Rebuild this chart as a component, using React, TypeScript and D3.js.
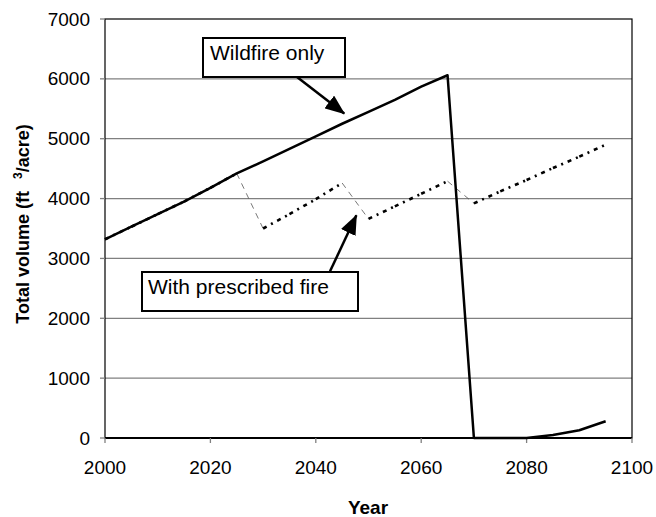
import React from 'react'
import * as d3 from 'd3'

const years = [2000, 2005, 2010, 2015, 2020, 2025, 2030, 2035, 2040, 2045, 2050, 2055, 2060, 2065, 2070, 2075, 2080, 2085, 2090, 2095]
const wildfireOnly = [3320, 3530, 3740, 3950, 4180, 4420, 4620, 4830, 5040, 5250, 5450, 5650, 5870, 6060, 0, 0, 0, 50, 130, 280]
const withPrescribedFire = [3320, 3530, 3740, 3950, 4180, 4420, 3500, 3740, 3990, 4260, 3660, 3870, 4080, 4290, 3920, 4120, 4310, 4510, 4700, 4900]
const yTicks = [0, 1000, 2000, 3000, 4000, 5000, 6000, 7000]
const xTicks = [2000, 2020, 2040, 2060, 2080, 2100]

const W = 656
const H = 517
const margin = { top: 19, right: 24, bottom: 79, left: 105 }
const font = 'Arial, "Liberation Sans", sans-serif'

export default function App() {
  const x = d3.scaleLinear().domain([2000, 2100]).range([margin.left, W - margin.right])
  const y = d3.scaleLinear().domain([0, 7000]).range([H - margin.bottom, margin.top])

  const line = d3
    .line<number>()
    .x((_, i) => x(years[i]))
    .y((d) => y(d))

  // prescribed series: falling steps render thin, rising parts thick dotted
  const segs = d3.pairs(d3.range(years.length))

  const x0 = x.range()[0]
  const x1 = x.range()[1]
  const y0 = y.range()[0]
  const y1 = y.range()[1]

  // annotation arrows, tips given in data space
  const arrows = [
    { from: [2035.7, 6080], to: [2045.4, 5420] },
    { from: [2042.7, 2785], to: [2047.7, 3720] },
  ]

  return (
    <svg width={W} height={H} style={{ position: 'absolute', left: 0, top: 0, background: '#fff' }} fontFamily={font}>
      <defs>
        <marker id="head" viewBox="0 0 20 16" refX="19" refY="8" markerWidth="20" markerHeight="16" markerUnits="userSpaceOnUse" orient="auto">
          <path d="M0,0 L20,8 L0,16 z" fill="#000" />
        </marker>
      </defs>

      {yTicks.filter((t) => t > 0 && t < 7000).map((t) => (
        <line key={t} x1={x0} x2={x1} y1={y(t)} y2={y(t)} stroke="#808080" strokeWidth={1.3} />
      ))}

      <rect x={x0} y={y1} width={x1 - x0} height={y0 - y1} fill="none" stroke="#000" strokeWidth={1.2} />
      <line x1={x0} x2={x1} y1={y0} y2={y0} stroke="#000" strokeWidth={2} />

      {yTicks.map((t) => (
        <g key={t}>
          <line x1={x0 - 5} x2={x0} y1={y(t)} y2={y(t)} stroke="#808080" strokeWidth={1.3} />
          <text x={x0 - 15} y={y(t) + 6.5} textAnchor="end" fontSize={19}>{t}</text>
        </g>
      ))}
      {xTicks.map((t) => (
        <g key={t}>
          <line x1={x(t)} x2={x(t)} y1={y0} y2={y0 + 5} stroke="#808080" strokeWidth={1.3} />
          <text x={x(t)} y={y0 + 36} textAnchor="middle" fontSize={19}>{t}</text>
        </g>
      ))}

      {segs.map(([a, b]) => {
        const down = withPrescribedFire[b] < withPrescribedFire[a]
        return (
          <line
            key={a}
            x1={x(years[a])}
            y1={y(withPrescribedFire[a])}
            x2={x(years[b])}
            y2={y(withPrescribedFire[b])}
            stroke={down ? '#555' : '#000'}
            strokeWidth={down ? 0.8 : 2.6}
            strokeDasharray={down ? '6,5' : '4,5,2,5'}
          />
        )
      })}

      <path d={line(wildfireOnly) || ''} fill="none" stroke="#000" strokeWidth={2.5} strokeLinejoin="round" />

      {arrows.map((a, i) => (
        <line
          key={i}
          x1={x(a.from[0])}
          y1={y(a.from[1])}
          x2={x(a.to[0])}
          y2={y(a.to[1])}
          stroke="#000"
          strokeWidth={2.5}
          markerEnd="url(#head)"
        />
      ))}

      <rect x={203} y={38} width={142} height={39} fill="#fff" stroke="#000" strokeWidth={2} />
      <text x={210} y={60} fontSize={21}>Wildfire only</text>

      <rect x={142} y={272} width={216} height={39} fill="#fff" stroke="#000" strokeWidth={2} />
      <text x={148} y={294} fontSize={21}>With prescribed fire</text>

      <text x={368} y={514} textAnchor="middle" fontSize={19} fontWeight="bold">Year</text>

      <text transform="translate(29,224) rotate(-90)" textAnchor="middle" fontSize={18} fontWeight="bold">
        Total volume (ft
        <tspan dx={12} dy={-7} fontSize={12}>3</tspan>
        <tspan dy={7}>/acre)</tspan>
      </text>
    </svg>
  )
}
